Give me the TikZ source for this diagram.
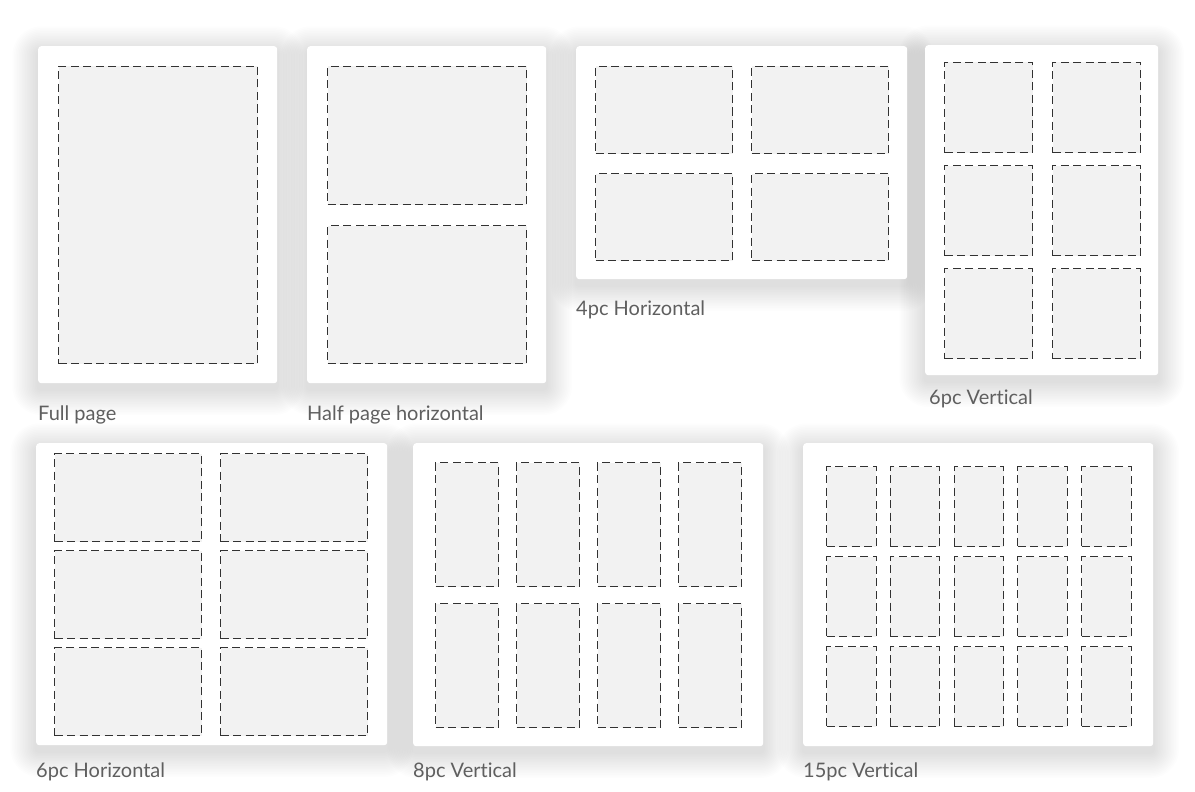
\documentclass[tikz,border=0pt]{standalone}
\usepackage{fontspec}
\setmainfont{Lato}[Ligatures={NoCommon}]
\usetikzlibrary{positioning,backgrounds}
\definecolor{panelbg}{RGB}{242,242,242}
\definecolor{dashcol}{RGB}{50,50,50}
\definecolor{capcol}{RGB}{95,95,95}

\begin{document}
\begin{tikzpicture}[x=1pt,y=-1pt,
   sheet/.style={anchor=north west,fill=white,rounded corners=3pt,inner sep=0pt},
   panel/.style={anchor=north west,fill=panelbg,draw=dashcol,line width=1pt,
                 dash pattern=on 8pt off 4.5pt,inner sep=0pt},
   caption/.style={anchor=base west,inner sep=0pt,
                   font=\fontsize{20}{24}\selectfont,text=capcol}]
  \useasboundingbox (0,0) rectangle (1195,792);

  % sheets
  \node[sheet,minimum width=239,minimum height=337] (full)    at (38,46)   {};
  \node[sheet,minimum width=239,minimum height=337] (half)    at (307,46)  {};
  \node[sheet,minimum width=331,minimum height=233] (four)    at (576,46)  {};
  \node[sheet,minimum width=233,minimum height=330] (sixv)    at (925,45)  {};
  \node[sheet,minimum width=351,minimum height=302] (sixh)    at (36,443)  {};
  \node[sheet,minimum width=350,minimum height=303] (eight)   at (413,443) {};
  \node[sheet,minimum width=350,minimum height=303] (fifteen) at (803,443) {};

  % soft shadow under the sheets
  \begin{scope}[on background layer]
    \fill[white] (0,0) rectangle (1195,792);
    \foreach \s in {full,half,four,sixv,sixh,eight,fifteen}
      \foreach \k in {1,...,16} {
        \pgfmathsetmacro\rr{3+1.6*\k}
        \fill[black,opacity=0.0065,rounded corners=\rr pt]
          ([xshift=-1.6*\k pt,yshift=1.6*\k pt-6pt]\s.north west) rectangle
          ([xshift=1.6*\k pt,yshift=-1.6*\k pt-6pt]\s.south east);
      }
  \end{scope}

  % panels
  \node[panel,minimum width=199,minimum height=297] (full-p) at (58,66) {};
  \node[panel,minimum width=199,minimum height=138] (half-p0) at (327,66) {};
  \node[panel,minimum width=199,minimum height=138] (half-p1) at (327,225) {};
  \foreach \c in {0,1} \foreach \r in {0,1}
    \node[panel,minimum width=137,minimum height=87] (four-\c-\r)
         at (595+156*\c,66+107*\r) {};
  \foreach \c in {0,1} \foreach \r in {0,1,2}
    \node[panel,minimum width=88,minimum height=90] (sixv-\c-\r)
         at (944+108*\c,62+103*\r) {};
  \foreach \c in {0,1} \foreach \r in {0,1,2}
    \node[panel,minimum width=147,minimum height=88] (sixh-\c-\r)
         at (54+166*\c,453+97*\r) {};
  \foreach \c in {0,...,3} \foreach \r in {0,1}
    \node[panel,minimum width=63,minimum height=124] (eight-\c-\r)
         at (435+81*\c,462+141*\r) {};
  \foreach \c in {0,...,4} \foreach \r in {0,1,2}
    \node[panel,minimum width=49.5,minimum height=80] (fifteen-\c-\r)
         at (826+63.75*\c,466+90*\r) {};

  % captions
  \node[caption] (full-l)    at ([yshift=-37pt]full.south west)    {Full page};
  \node[caption] (half-l)    at ([yshift=-37pt]half.south west)    {Half page horizontal};
  \node[caption] (four-l)    at ([yshift=-36pt]four.south west)    {4pc Horizontal};
  \node[caption] (sixv-l)    at ([yshift=-29pt,xshift=4pt]sixv.south west) {6pc Vertical};
  \node[caption] (sixh-l)    at ([yshift=-32pt]sixh.south west)    {6pc Horizontal};
  \node[caption] (eight-l)   at ([yshift=-31pt]eight.south west)   {8pc Vertical};
  \node[caption] (fifteen-l) at ([yshift=-31pt]fifteen.south west) {15pc Vertical};
\end{tikzpicture}
\end{document}
